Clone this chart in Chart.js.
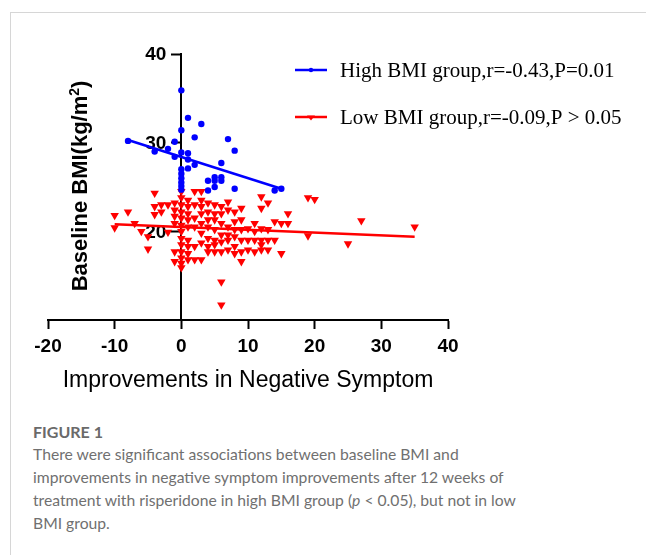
<!DOCTYPE html>
<html>
<head>
<meta charset="utf-8">
<script src="https://cdn.jsdelivr.net/npm/chart.js@4.4.1/dist/chart.umd.min.js"></script>
<style>
  body { margin: 0; background: #fff; }
  #frame { position: relative; width: 646px; height: 555px; overflow: hidden; }
  #box { position: absolute; left: 10px; top: 12px; right: 0; bottom: 0; border-left: 1px solid #d6d6d6; border-top: 1px solid #d6d6d6; }
  #chartWrap { position: absolute; left: 0; top: 0; width: 646px; height: 400px; }
  #caption { position: absolute; left: 33px; top: 420px; font-family: Lato, sans-serif; font-size: 15.7px; line-height: 23px; color: #707070; white-space: nowrap; }
  #caption .fig { font-weight: bold; color: #6a6a6a; font-size: 16px; }
</style>
</head>
<body>
<div id="frame">
  <div id="box"></div>
  <div id="chartWrap"><canvas id="bmiChart" width="646" height="400"></canvas></div>
  <div id="caption">
    <div class="fig">FIGURE 1</div>
    There were significant associations between baseline BMI and<br>
    improvements in negative symptom improvements after 12 weeks of<br>
    treatment with risperidone in high BMI group (<i>p</i> &lt; 0.05), but not in low<br>
    BMI group.
  </div>
</div>
<script>
// data
const seriesNames = ['High BMI group,r=-0.43,P=0.01', 'Low BMI group,r=-0.09,P > 0.05'];
const xTicks = [-20, -10, 0, 10, 20, 30, 40];
const yTicks = [20, 30, 40];

// high BMI group (blue dots)
const highX = [-8, -4, -2, -1, -1,
    0, 0, 0, 0, 0, 0, 0, 0, 0,
    1, 1, 1, 1, 2, 2, 3, 4, 4, 5, 5, 5,
    6, 6, 6, 7, 8, 8, 14, 15];
const highY = [30.2, 29.0, 29.3, 30.1, 28.4,
    35.9, 31.4, 28.9, 27.0, 26.5, 26.0, 25.5, 25.1, 24.7,
    32.8, 28.8, 28.1, 27.1, 30.6, 27.5, 32.1, 25.7, 24.6, 26.1, 25.7, 25.0,
    27.7, 26.1, 25.7, 30.4, 29.1, 24.8, 24.6, 24.8];

// low BMI group (red triangles)
const lowX = [-10, -10, -8, -7, -6, -5, -5, -4, -4, -4, -3, -3, -2, -2,
    -1, -1, -1, -1, -1, -1,
    0, 0, 0, 0, 0, 0, 0, 0, 0, 0, 0, 0, 0,
    1, 1, 1, 1, 1, 1, 1, 1, 1,
    2, 2, 2, 2, 2, 2,
    3, 3, 3, 3, 3, 3, 3, 3,
    4, 4, 4, 4, 4, 4, 4,
    5, 5, 5, 5, 5, 5, 5,
    6, 6, 6, 6, 6, 6, 6, 6,
    7, 7, 7, 7, 7, 7,
    8, 8, 8, 8, 8, 8,
    9, 9, 9, 9, 9, 9,
    10, 10, 10, 11, 11, 11, 11,
    12, 12, 12, 12, 12, 12, 13, 13, 13, 13,
    14, 14, 15, 15, 16, 16, 19, 19, 20, 25, 27, 35];
const lowY = [21.8, 20.4, 22.2, 20.9, 20.0, 19.4, 18.0, 24.3, 22.8, 21.9, 23.0, 22.2, 23.0, 19.9,
    23.2, 22.4, 21.7, 20.9, 17.7, 16.6,
    24.5, 23.8, 23.0, 22.2, 21.5, 20.7, 20.0, 19.2, 18.5, 17.7, 17.0, 16.4, 15.9,
    23.5, 22.8, 22.0, 21.3, 20.5, 19.0, 18.3, 17.5, 16.8,
    24.5, 23.0, 21.5, 20.5, 18.3, 16.8,
    24.5, 23.5, 22.8, 22.0, 20.9, 19.8, 18.7, 16.8,
    23.2, 22.2, 21.3, 20.5, 19.2, 18.3, 17.7,
    23.0, 22.0, 21.3, 20.2, 19.0, 18.5, 17.7,
    22.8, 22.0, 20.9, 19.6, 18.8, 17.7, 14.3, 11.7,
    23.3, 22.4, 20.5, 19.6, 19.0, 17.9,
    22.2, 21.1, 20.2, 19.4, 18.3, 17.5,
    22.6, 21.3, 20.2, 19.0, 17.7, 16.6,
    20.3, 19.0, 17.9, 20.9, 20.0, 19.0, 17.7,
    23.9, 22.6, 20.3, 19.0, 18.5, 17.9, 23.2, 20.2, 19.0, 17.9,
    21.1, 19.0, 20.9, 17.5, 22.0, 20.9, 23.8, 19.5, 23.6, 18.6, 21.2, 20.5];

// fitted lines (end points as drawn)
const highFitX = [-8, 15];
const highFitY = [30.3, 24.8];
const lowFitX = [-10, 35];
const lowFitY = [20.8, 19.4];

const BLUE = '#0000ff';
const RED = '#ff0000';

function toPoints(xs, ys) {
    return xs.map((x, i) => ({ x: x, y: ys[i] }));
}

// y tick labels go under the marks, left of the y axis that sits at x = 0
const yLabels = {
    id: 'yLabels',
    beforeDatasetsDraw(chart) {
        const ctx = chart.ctx;
        const xs = chart.scales.x, ys = chart.scales.y;
        const axisX = xs.getPixelForValue(0);
        ctx.save();
        ctx.fillStyle = '#000';
        ctx.font = 'bold 19px "Liberation Sans", Arial';
        ctx.textAlign = 'right';
        ctx.textBaseline = 'middle';
        yTicks.forEach(v => {
            ctx.fillText(String(v), axisX - 15, ys.getPixelForValue(v) + 1);
        });
        ctx.restore();
    }
};

// y title + legend drawn on top of the plot
const extras = {
    id: 'extras',
    afterDraw(chart) {
        const ctx = chart.ctx;
        ctx.save();
        ctx.fillStyle = '#000';

        // rotated y axis title with superscript
        ctx.translate(81, 186);
        ctx.rotate(-Math.PI / 2);
        ctx.textBaseline = 'middle';
        ctx.textAlign = 'left';
        const big = 'bold 22px "Liberation Sans", Arial';
        const small = 'bold 14px "Liberation Sans", Arial';
        ctx.font = big;
        const w1 = ctx.measureText('Baseline BMI(kg/m').width;
        const w3 = ctx.measureText(')').width;
        ctx.font = small;
        const w2 = ctx.measureText('2').width;
        let x0 = -(w1 + w2 + w3) / 2;
        ctx.font = big;
        ctx.fillText('Baseline BMI(kg/m', x0, 0);
        ctx.font = small;
        ctx.fillText('2', x0 + w1, -6);
        ctx.font = big;
        ctx.fillText(')', x0 + w1 + w2, 0);
        ctx.restore();

        ctx.save();
        const rows = [{ y: 70, base: 77, color: BLUE, mark: 'dot' },
                      { y: 117, base: 123.5, color: RED, mark: 'tri' }];
        rows.forEach((r, i) => {
            ctx.strokeStyle = r.color;
            ctx.fillStyle = r.color;
            ctx.lineWidth = 2.5;
            ctx.beginPath();
            ctx.moveTo(295, r.y);
            ctx.lineTo(327, r.y);
            ctx.stroke();
            ctx.beginPath();
            if (r.mark === 'dot') {
                ctx.arc(311, r.y, 2.2, 0, Math.PI * 2);
            } else {
                ctx.moveTo(307, r.y - 1.5);
                ctx.lineTo(315, r.y - 1.5);
                ctx.lineTo(311, r.y + 3.5);
                ctx.closePath();
            }
            ctx.fill();
            ctx.fillStyle = '#000';
            ctx.font = '21px "Liberation Serif", "Times New Roman", serif';
            ctx.textBaseline = 'alphabetic';
            ctx.textAlign = 'left';
            ctx.fillText(seriesNames[i], 340, r.base);
        });
        ctx.restore();
    }
};

const axisGrid = { display: true, drawOnChartArea: false, drawTicks: true, tickLength: 9, tickWidth: 2, tickColor: '#000' };
const axisBorder = { display: true, color: '#000', width: 2 };
const tickFont = { family: '"Liberation Sans", Arial', size: 19, weight: 'bold' };

new Chart(document.getElementById('bmiChart').getContext('2d'), {
    type: 'scatter',
    data: {
        datasets: [
            {
                label: seriesNames[0],
                data: toPoints(highX, highY),
                backgroundColor: BLUE,
                borderColor: BLUE,
                borderWidth: 0,
                pointStyle: 'circle',
                pointRadius: 3.2
            },
            {
                label: seriesNames[0] + ' fit',
                data: toPoints(highFitX, highFitY),
                type: 'line',
                showLine: true,
                borderColor: BLUE,
                borderWidth: 2.5,
                pointRadius: 0,
                fill: false
            },
            {
                label: seriesNames[1],
                data: toPoints(lowX, lowY),
                backgroundColor: RED,
                borderColor: RED,
                borderWidth: 0,
                pointStyle: 'triangle',
                rotation: 180,
                pointRadius: 4.9
            },
            {
                label: seriesNames[1] + ' fit',
                data: toPoints(lowFitX, lowFitY),
                type: 'line',
                showLine: true,
                borderColor: RED,
                borderWidth: 2.5,
                pointRadius: 0,
                fill: false
            }
        ]
    },
    options: {
        responsive: false,
        animation: false,
        layout: { padding: { left: 48, right: 198, top: 54, bottom: 0 } },
        plugins: { legend: { display: false }, tooltip: { enabled: false } },
        scales: {
            x: {
                type: 'linear',
                position: 'bottom',
                min: -20,
                max: 40,
                afterBuildTicks: s => { s.ticks = xTicks.map(v => ({ value: v })); },
                afterFit: s => { s.height = 80; },
                grid: axisGrid,
                border: axisBorder,
                ticks: { color: '#000', font: tickFont, padding: 6, maxRotation: 0 },
                title: {
                    display: true,
                    text: 'Improvements in Negative Symptom',
                    color: '#000',
                    font: { family: '"Liberation Sans", Arial', size: 23 },
                    padding: { top: 0, bottom: 6 }
                }
            },
            y: {
                type: 'linear',
                position: { x: 0 },
                min: 10,
                max: 40,
                afterBuildTicks: s => { s.ticks = yTicks.map(v => ({ value: v })); },
                grid: axisGrid,
                border: axisBorder,
                ticks: { display: false }
            }
        }
    },
    plugins: [yLabels, extras]
});
</script>
</body>
</html>
